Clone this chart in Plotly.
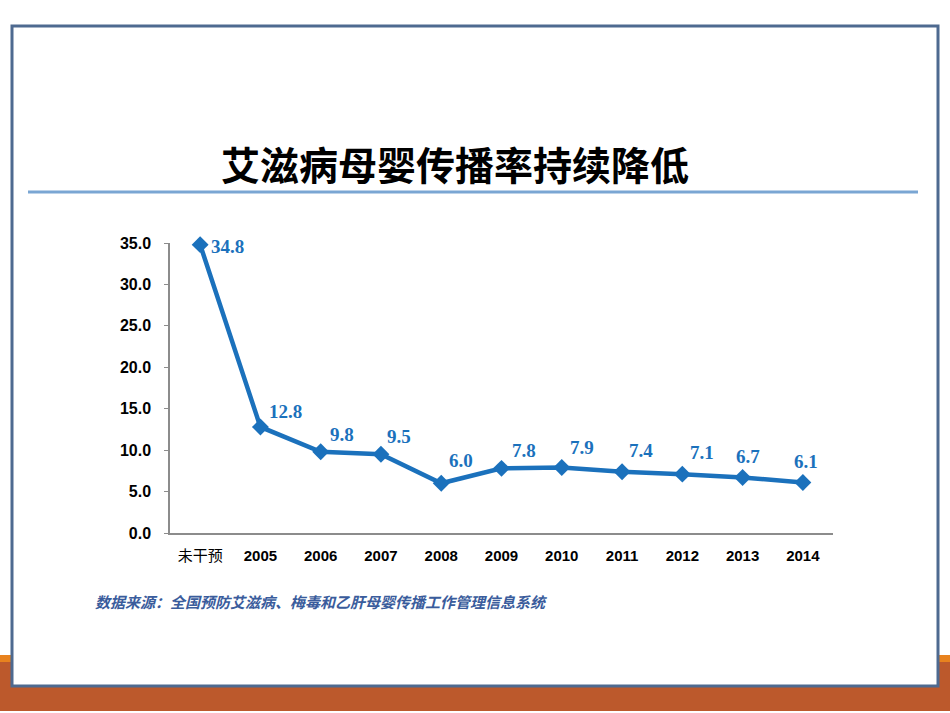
import plotly.graph_objects as go

categories = ["未干预", "2005", "2006", "2007", "2008", "2009", "2010", "2011", "2012", "2013", "2014"]
rates = [34.8, 12.8, 9.8, 9.5, 6.0, 7.8, 7.9, 7.4, 7.1, 6.7, 6.1]
label_text = ["34.8", "12.8", "9.8", "9.5", "6.0", "7.8", "7.9", "7.4", "7.1", "6.7", "6.1"]
label_dx = [27, 25, 21, 18, 20, 22, 20, 19, 20, 5, 3]
label_dy = [-2, 15, 17, 18, 23, 18, 20, 21, 22, 21, 21]
y_ticks = [0, 5, 10, 15, 20, 25, 30, 35]
title_text = "艾滋病母婴传播率持续降低"
source_text = "数据来源：全国预防艾滋病、梅毒和乙肝母婴传播工作管理信息系统"

W, H = 950, 713
BLUE = "#1B71BC"


def px(x):
    return x / W


def py(y):
    return 1 - y / H


ticktext = [c if not c.isdigit() else "<b>" + c + "</b>" for c in categories]

fig = go.Figure()
fig.add_trace(go.Scatter(
    x=categories, y=rates, mode="lines+markers",
    line=dict(color=BLUE, width=4.5),
    marker=dict(symbol="diamond", size=13, color=BLUE),
    cliponaxis=False, hoverinfo="skip", showlegend=False,
))

annotations = []
for i, (v, t, dx, dy) in enumerate(zip(rates, label_text, label_dx, label_dy)):
    annotations.append(dict(
        x=i, y=v, xref="x", yref="y", text=t, showarrow=False,
        xshift=dx, yshift=dy,
        font=dict(family="Liberation Serif", size=19, color=BLUE, weight="bold"),
    ))

annotations.append(dict(
    x=px(455), y=py(163), xref="paper", yref="paper", text="<b>" + title_text + "</b>",
    showarrow=False, xanchor="center", yanchor="middle",
    font=dict(family="Noto Sans CJK SC", size=39, color="#000000"),
))
annotations.append(dict(
    x=px(93), y=py(601), xref="paper", yref="paper", text="<b><i>" + source_text + "</i></b>",
    showarrow=False, xanchor="left", yanchor="middle",
    font=dict(family="Noto Sans CJK SC", size=15, color="#3A5C9C"),
))

shapes = [
    dict(type="rect", xref="paper", yref="paper", x0=0, x1=1, y0=py(655), y1=py(662),
         fillcolor="#E8821E", line=dict(width=0), layer="below"),
    dict(type="rect", xref="paper", yref="paper", x0=0, x1=1, y0=py(662), y1=py(711),
         fillcolor="#BC592C", line=dict(width=0), layer="below"),
    dict(type="rect", xref="paper", yref="paper", x0=px(12), x1=px(938), y0=py(686), y1=py(26),
         fillcolor="#FFFFFF", line=dict(color="#4E6A90", width=3), layer="below"),
    dict(type="line", xref="paper", yref="paper", x0=px(28), x1=px(918), y0=py(192), y1=py(192),
         line=dict(color="#7AA6D3", width=3), layer="below"),
]

fig.update_layout(
    width=W, height=H,
    margin=dict(l=0, r=0, t=0, b=0),
    paper_bgcolor="#FFFFFF", plot_bgcolor="rgba(0,0,0,0)",
    template="none",
    annotations=annotations, shapes=shapes,
    xaxis=dict(
        type="category", domain=[px(170), px(833)], range=[-0.5, 10.5],
        tickmode="array", tickvals=categories, ticktext=ticktext,
        showline=True, linecolor="#8C8C8C", linewidth=1.5, showgrid=False, zeroline=False,
        ticks="", ticklabelstandoff=8,
        tickfont=dict(family="Liberation Sans, Noto Sans CJK SC", size=15, color="#000000"),
        anchor="y", automargin=False,
    ),
    yaxis=dict(
        domain=[py(533), py(243)], range=[0, 35],
        tickmode="array", tickvals=y_ticks, ticktext=[f"{v:.1f}" for v in y_ticks],
        showline=True, linecolor="#8C8C8C", linewidth=1.5, showgrid=False, zeroline=False,
        ticks="outside", ticklen=4, tickcolor="#8C8C8C", ticklabelstandoff=10,
        tickfont=dict(family="Liberation Sans", size=16, color="#000000", weight="bold"),
        anchor="x", automargin=False,
    ),
)

fig.write_html("out.html")
